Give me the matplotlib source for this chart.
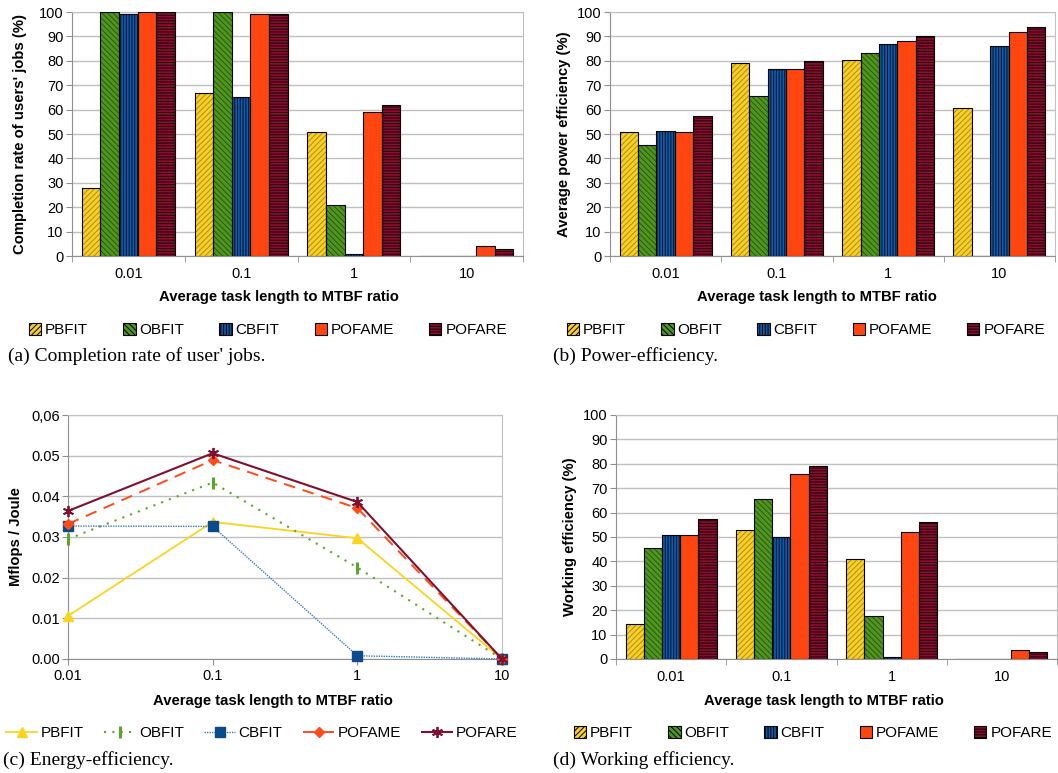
import numpy as np
import matplotlib
matplotlib.use("Agg")
from matplotlib import pyplot as plt
from matplotlib.patches import Patch

plt.rcParams['font.family'] = ['Liberation Sans', 'DejaVu Sans']
plt.rcParams['hatch.linewidth'] = 0.7

ratios = ['0.01', '0.1', '1', '10']
policies = ['PBFIT', 'OBFIT', 'CBFIT', 'POFAME', 'POFARE']

# (a) completion rate of users' jobs (%)
completion = {
    'PBFIT': [28, 67, 51, 0],
    'OBFIT': [100, 100, 21, 0],
    'CBFIT': [99, 65, 1, 0],
    'POFAME': [100, 99, 59, 4],
    'POFARE': [100, 99, 62, 3],
}
# (b) average power efficiency (%)
power = {
    'PBFIT': [51, 79, 80.3, 60.8],
    'OBFIT': [45.5, 65.7, 83, 0],
    'CBFIT': [51.3, 76.5, 87, 86.2],
    'POFAME': [51, 76.7, 88, 92],
    'POFARE': [57.3, 79.8, 90, 93.8],
}
# (c) energy efficiency (Mflops / Joule)
energy = {
    'PBFIT': [0.0106, 0.0337, 0.0297, 0.0],
    'OBFIT': [0.0295, 0.0434, 0.0225, 0.0],
    'CBFIT': [0.0327, 0.0326, 0.0008, 0.0],
    'POFAME': [0.0332, 0.0489, 0.0371, 0.0],
    'POFARE': [0.0364, 0.0506, 0.0386, 0.0],
}
# (d) working efficiency (%)
working = {
    'PBFIT': [14.3, 53, 41, 0],
    'OBFIT': [45.5, 65.7, 17.5, 0],
    'CBFIT': [50.8, 49.8, 1, 0],
    'POFAME': [51, 76, 52, 3.7],
    'POFARE': [57.3, 79, 56, 2.8],
}

fill = {'PBFIT': '#f6cf2e', 'OBFIT': '#4f951f', 'CBFIT': '#0e5aa6',
        'POFAME': '#ff4610', 'POFARE': '#8a0c2e'}
hcol = {'PBFIT': '#b38f00', 'OBFIT': '#2a5a0c', 'CBFIT': '#00122e',
        'POFAME': '#ff4610', 'POFARE': '#1a0008'}
hatch = {'PBFIT': '//////', 'OBFIT': '\\\\\\\\\\\\', 'CBFIT': '||||||',
         'POFAME': '', 'POFARE': '------'}

W, H = 1058, 773
fig = plt.figure(figsize=(W / 100, H / 100), dpi=100)


def px_axes(l, t, r, b):
    return fig.add_axes([l / W, 1 - b / H, (r - l) / W, (b - t) / H])


grid_c = '#c0c0c0'
tick_fs = 10.5
lab_fs = 10.7
leg_fs = 11
cap_fs = 14


def style_axes(ax):
    ax.yaxis.grid(True, color=grid_c, linewidth=1)
    ax.set_axisbelow(True)
    for s in ax.spines.values():
        s.set_color(grid_c)
    ax.spines['left'].set_color('#909090')
    ax.spines['bottom'].set_color('#909090')


def bar_panel(ax, data, ylabel, right_lim=3.5, pad=4):
    x = np.arange(len(ratios))
    w = 0.165
    for i, p in enumerate(policies):
        off = (i - 2) * w
        ax.bar(x + off, data[p], w, color=fill[p], edgecolor=hcol[p],
               hatch=hatch[p], linewidth=0, zorder=3)
        ax.bar(x + off, data[p], w, fill=False, edgecolor='black',
               linewidth=0.8, zorder=4)
    ax.set_xlim(-0.5, right_lim)
    ax.set_ylim(0, 100)
    ax.set_yticks(np.arange(0, 101, 10))
    ax.set_xticks(x)
    ax.set_xticklabels(ratios)
    ax.set_xticks(np.arange(-0.5, 3.6, 1), minor=True)
    ax.tick_params(axis='x', which='major', length=0, pad=8, labelsize=tick_fs)
    ax.tick_params(axis='x', which='minor', length=4, color='#909090')
    ax.tick_params(axis='y', length=4, color='#909090', labelsize=tick_fs, pad=2)
    style_axes(ax)
    ax.set_ylabel(ylabel, fontsize=lab_fs, fontweight='bold', labelpad=pad)


def bar_legend(cx, cy):
    handles = [Patch(facecolor=fill[p], edgecolor='black', hatch=hatch[p],
                     linewidth=0.8) for p in policies]
    fig.legend(handles, policies, loc='center', bbox_to_anchor=(cx / W, 1 - cy / H),
               ncol=5, frameon=False, fontsize=leg_fs, handlelength=0.8,
               handleheight=0.8, handletextpad=0.25, columnspacing=2.3,
               borderpad=0)


ax_a = px_axes(72, 12, 523, 256)
bar_panel(ax_a, completion, "Completion rate of users' jobs (%)", pad=9)
fig.text(279 / W, 1 - 297 / H, 'Average task length to MTBF ratio',
         ha='center', va='center', fontsize=lab_fs, fontweight='bold')
bar_legend(268, 330)
fig.text(8 / W, 1 - 356 / H, "(a) Completion rate of user' jobs.",
         ha='left', va='center', fontsize=cap_fs, family='Liberation Serif')

ax_b = px_axes(610, 12, 1055, 256)
bar_panel(ax_b, power, 'Average power efficiency (%)', right_lim=3.45)
fig.text(817 / W, 1 - 297 / H, 'Average task length to MTBF ratio',
         ha='center', va='center', fontsize=lab_fs, fontweight='bold')
bar_legend(806, 330)
fig.text(553 / W, 1 - 356 / H, '(b) Power-efficiency.',
         ha='left', va='center', fontsize=cap_fs, family='Liberation Serif')

# (c) line chart
ax_c = px_axes(68, 415, 502, 659)
xs = np.arange(len(ratios))
line_style = {
    'PBFIT': dict(color='#fbd41c', ls='-', lw=1.3, marker='^', ms=7),
    'OBFIT': dict(color='#5ea62a', ls=(0, (1, 3)), lw=1.5, marker='|', ms=9, mew=2.2),
    'CBFIT': dict(color='#3b78c0', ls=(0, (1, 0.8)), lw=1.0, marker='s', ms=6.5,
                  mfc='#0b4a8c', mec='#0b4a8c'),
    'POFAME': dict(color='#ff4a1a', ls=(0, (6, 4)), lw=1.4, marker='D', ms=5.5),
    'POFARE': dict(color='#7e1030', ls='-', lw=1.5, marker=(6, 2, 0), ms=8, mew=1.3),
}
handles_c = []
for p in policies:
    st = line_style[p]
    (ln,) = ax_c.plot(xs, energy[p], label=p, zorder=3, clip_on=False, **st)
    handles_c.append(ln)
ax_c.set_xlim(0, 3)
ax_c.set_ylim(0, 0.06)
ax_c.set_xticks(xs)
ax_c.set_xticklabels(ratios)
ax_c.set_yticks(np.arange(0, 0.061, 0.01))
ax_c.set_yticklabels(['0.00', '0.01', '0.02', '0.03', '0.04', '0.05', '0,06'])
ax_c.tick_params(axis='x', length=4, color='#909090', labelsize=tick_fs, pad=3)
ax_c.tick_params(axis='y', length=4, color='#909090', labelsize=tick_fs, pad=2)
style_axes(ax_c)
ax_c.set_ylabel('Mflops / Joule', fontsize=lab_fs, fontweight='bold', labelpad=6)
fig.text(273 / W, 1 - 701 / H, 'Average task length to MTBF ratio',
         ha='center', va='center', fontsize=lab_fs, fontweight='bold')
fig.legend(handles_c, policies, loc='center', bbox_to_anchor=(262 / W, 1 - 733 / H),
           ncol=5, frameon=False, fontsize=leg_fs, handlelength=2.0,
           handletextpad=0.25, columnspacing=1.35, borderpad=0)
fig.text(3 / W, 1 - 760 / H, '(c) Energy-efficiency.',
         ha='left', va='center', fontsize=cap_fs, family='Liberation Serif')

ax_d = px_axes(616, 415, 1057, 659)
bar_panel(ax_d, working, 'Working efficiency (%)', right_lim=3.47)
fig.text(824 / W, 1 - 701 / H, 'Average task length to MTBF ratio',
         ha='center', va='center', fontsize=lab_fs, fontweight='bold')
bar_legend(813, 733)
fig.text(553 / W, 1 - 760 / H, '(d) Working efficiency.',
         ha='left', va='center', fontsize=cap_fs, family='Liberation Serif')

fig.savefig('out.png', dpi=100)
